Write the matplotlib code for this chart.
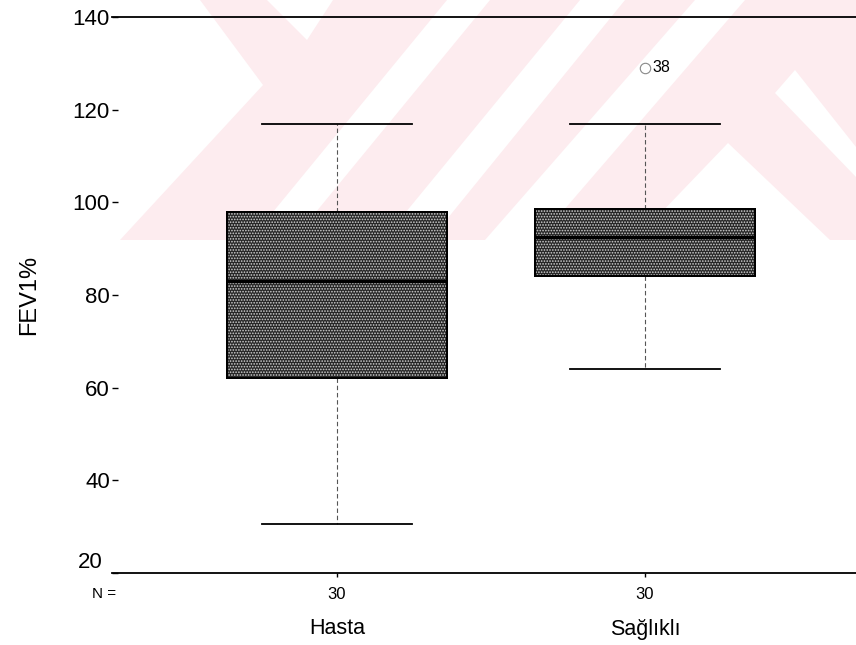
import matplotlib
matplotlib.use("Agg")
import matplotlib.pyplot as plt
from matplotlib.patches import Polygon, PathPatch
from matplotlib import transforms

plt.rcParams['font.family'] = ['Liberation Sans', 'DejaVu Sans']
plt.rcParams['hatch.linewidth'] = 0.8

# ---- data -------------------------------------------------------------
groups = ['Hasta', 'Sağlıklı']
n_counts = [30, 30]
q1 = [62, 84]
median = [83, 92.5]
q3 = [98, 98.5]
whisker_low = [30.5, 64]
whisker_high = [117, 117]
outliers = [[], [129]]
outlier_ids = [[], ['38']]
y_ticks = [20, 40, 60, 80, 100, 120, 140]
y_label = 'FEV1%'

# ---- figure -----------------------------------------------------------
W, H = 856, 645
fig = plt.figure(figsize=(W / 100, H / 100), dpi=100)
fig.patch.set_facecolor('white')


def fig_xy(points):
    return [(x / W, 1 - y / H) for x, y in points]


# faint pink background emblem in the upper part of the page
pink = '#fdecef'
emblem_pink = [
    [(200, 0), (856, 0), (856, 240), (120, 240), (263, 85)],
]
emblem_white = [
    [(267, 0), (333, 0), (307, 40)],
    [(250, 240), (293, 240), (490, 0), (447, 0)],
    [(383, 240), (430, 240), (625, 0), (580, 0)],
    [(485, 240), (538, 240), (745, 0), (695, 0)],
    [(795, 70), (856, 147), (856, 177), (775, 93)],
    [(728, 143), (635, 240), (830, 240)],
]
for pts in emblem_pink:
    fig.patches.append(Polygon(fig_xy(pts), closed=True, transform=fig.transFigure,
                               fc=pink, ec='none', zorder=-2))
for pts in emblem_white:
    fig.patches.append(Polygon(fig_xy(pts), closed=True, transform=fig.transFigure,
                               fc='white', ec='none', zorder=-1))

ax = fig.add_axes([112 / W, 1 - 573 / H, 1 - 112 / W, (573 - 17) / H])
ax.set_facecolor('none')

positions = list(range(1, len(groups) + 1))
stats = []
for i, g in enumerate(groups):
    stats.append(dict(label=g, q1=q1[i], med=median[i], q3=q3[i],
                      whislo=whisker_low[i], whishi=whisker_high[i],
                      fliers=outliers[i]))

res = ax.bxp(stats, positions=positions, widths=0.715, capwidths=0.49,
             patch_artist=True, showfliers=True,
             boxprops=dict(facecolor='#262626', edgecolor='black', linewidth=1.4),
             medianprops=dict(color='black', linewidth=2.4),
             whiskerprops=dict(color='#555555', linewidth=0.8, linestyle=(0, (4, 2.5))),
             capprops=dict(color='black', linewidth=1.3),
             flierprops=dict(marker='o', markerfacecolor='none', markeredgecolor='#888888',
                             markersize=7.5, markeredgewidth=0.8))

# speckled halftone texture over each box
for box in res['boxes']:
    ax.add_patch(PathPatch(box.get_path(), transform=box.get_transform(),
                           facecolor='none', edgecolor='#d2d2d2', linewidth=0,
                           hatch='......', zorder=box.get_zorder() + 0.1))
    ax.add_patch(PathPatch(box.get_path(), transform=box.get_transform(),
                           facecolor='none', edgecolor='black', linewidth=1.4,
                           zorder=box.get_zorder() + 0.2))
for m in res['medians']:
    m.set_zorder(5)

# outlier case numbers
for i, pos in enumerate(positions):
    for val, cid in zip(outliers[i], outlier_ids[i]):
        ax.annotate(cid, (pos, val), xytext=(5, 0), textcoords='offset points',
                    ha='left', va='center', fontsize=11.5)

ax.set_xlim(0.2695, 2.685)
ax.set_ylim(y_ticks[0], y_ticks[-1])

for side in ('left', 'right'):
    ax.spines[side].set_visible(False)
for side in ('top', 'bottom'):
    ax.spines[side].set_linewidth(1.3)

ax.set_yticks(y_ticks)
ax.set_yticklabels([''] + [str(v) for v in y_ticks[1:]])
ax.tick_params(axis='y', direction='in', length=4.5, width=1.0, pad=1.5, labelsize=16)

# lowest value label sits a little above the baseline
lift = transforms.offset_copy(transforms.blended_transform_factory(ax.transAxes, ax.transData),
                              fig=fig, x=-9, y=11, units='dots')
ax.text(0, y_ticks[0], str(y_ticks[0]), transform=lift, ha='right', va='center', fontsize=16)

ax.set_xticks(positions)
ax.set_xticklabels([str(n) for n in n_counts])
ax.tick_params(axis='x', direction='out', length=3, width=1.0, pad=7, labelsize=12)

fig.text(104 / W, 1 - 594 / H, 'N =', ha='center', va='center', fontsize=11)

cat_tr = transforms.blended_transform_factory(ax.transData, fig.transFigure)
for pos, g in zip(positions, groups):
    ax.text(pos, 1 - 629 / H, g, transform=cat_tr, ha='center', va='center', fontsize=15.5)

fig.text(29 / W, 1 - 295 / H, y_label, rotation=90, ha='center', va='center', fontsize=17)

fig.savefig('out.png', dpi=100, facecolor='white')
